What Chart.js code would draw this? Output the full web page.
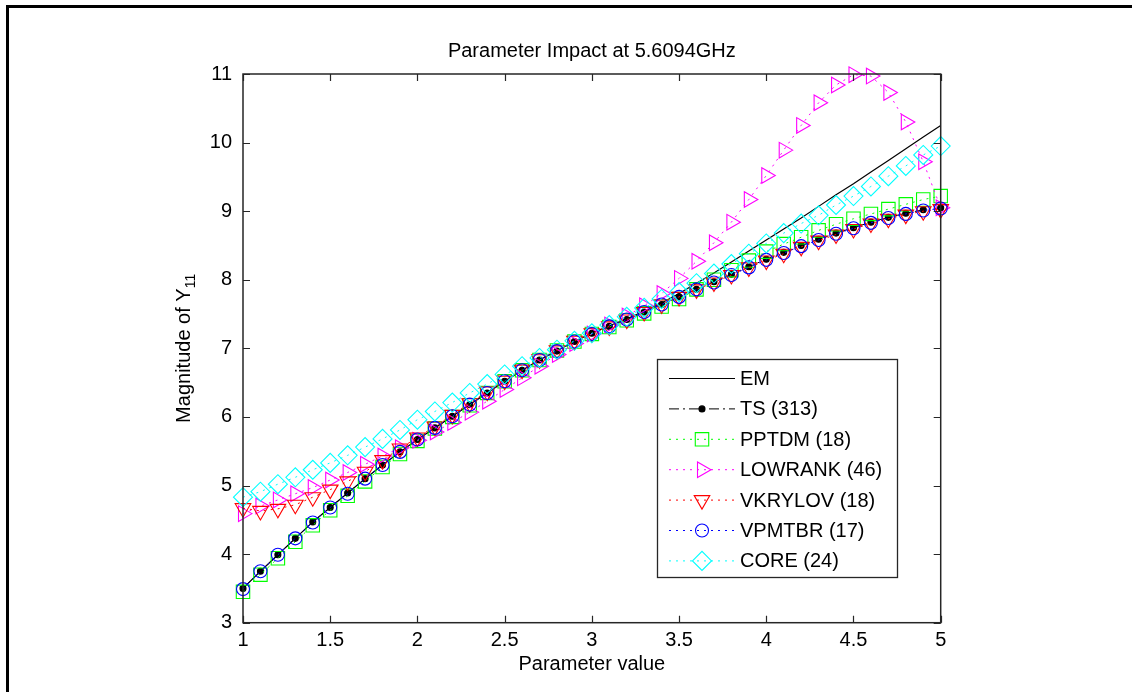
<!DOCTYPE html>
<html>
<head>
<meta charset="utf-8">
<script src="https://cdn.jsdelivr.net/npm/chart.js@4.4.1/dist/chart.umd.min.js"></script>
<style>
  html, body { margin: 0; padding: 0; background: #fff; }
</style>
</head>
<body>
<canvas id="c" width="1132" height="692"></canvas>
<script>
// Data
const params = [1.0, 1.1, 1.2, 1.3, 1.4, 1.5, 1.6, 1.7, 1.8, 1.9, 2.0, 2.1, 2.2, 2.3, 2.4, 2.5, 2.6, 2.7, 2.8, 2.9,
  3.0, 3.1, 3.2, 3.3, 3.4, 3.5, 3.6, 3.7, 3.8, 3.9, 4.0, 4.1, 4.2, 4.3, 4.4, 4.5, 4.6, 4.7, 4.8, 4.9, 5.0];

const emVals = [3.50, 3.75, 3.99, 4.23, 4.47, 4.68, 4.89, 5.10, 5.30, 5.49, 5.67, 5.84, 6.01, 6.18, 6.35, 6.52, 6.68, 6.83, 6.97, 7.10,
  7.22, 7.33, 7.43, 7.54, 7.66, 7.80, 7.95, 8.10, 8.26, 8.42, 8.58, 8.74, 8.90, 9.07, 9.24, 9.40, 9.57, 9.74, 9.91, 10.08, 10.25];
const tsVals = [3.50, 3.75, 3.99, 4.23, 4.47, 4.68, 4.89, 5.10, 5.30, 5.49, 5.67, 5.84, 6.01, 6.18, 6.35, 6.52, 6.68, 6.83, 6.96, 7.10,
  7.22, 7.32, 7.42, 7.53, 7.64, 7.75, 7.86, 7.97, 8.08, 8.19, 8.30, 8.40, 8.50, 8.59, 8.68, 8.76, 8.84, 8.91, 8.97, 9.02, 9.05];
const pptdmVals = [3.45, 3.70, 3.94, 4.18, 4.42, 4.64, 4.85, 5.06, 5.27, 5.46, 5.65, 5.83, 6.00, 6.17, 6.35, 6.52, 6.68, 6.83, 6.97, 7.10,
  7.21, 7.31, 7.41, 7.51, 7.61, 7.72, 7.86, 8.00, 8.14, 8.28, 8.41, 8.52, 8.62, 8.72, 8.81, 8.89, 8.96, 9.03, 9.10, 9.17, 9.22];
const lowrankVals = [4.59, 4.70, 4.79, 4.88, 4.97, 5.08, 5.19, 5.31, 5.43, 5.55, 5.66, 5.78, 5.92, 6.07, 6.23, 6.40, 6.57, 6.74, 6.91, 7.07,
  7.21, 7.34, 7.47, 7.62, 7.80, 8.02, 8.27, 8.54, 8.84, 9.17, 9.52, 9.89, 10.25, 10.58, 10.84, 10.99, 10.97, 10.73, 10.30, 9.72, 9.05];
const vkrylovVals = [4.67, 4.63, 4.66, 4.72, 4.83, 4.94, 5.06, 5.20, 5.37, 5.54, 5.70, 5.86, 6.03, 6.20, 6.37, 6.53, 6.69, 6.84, 6.97, 7.11,
  7.22, 7.32, 7.42, 7.53, 7.64, 7.75, 7.86, 7.96, 8.07, 8.18, 8.28, 8.38, 8.48, 8.57, 8.66, 8.74, 8.82, 8.89, 8.95, 9.00, 9.03];
const vpmtbrVals = [3.49, 3.75, 3.99, 4.23, 4.46, 4.68, 4.88, 5.10, 5.30, 5.49, 5.67, 5.84, 6.01, 6.18, 6.35, 6.52, 6.68, 6.83, 6.96, 7.10,
  7.21, 7.32, 7.42, 7.53, 7.64, 7.75, 7.86, 7.96, 8.07, 8.18, 8.29, 8.39, 8.49, 8.58, 8.67, 8.75, 8.83, 8.90, 8.96, 9.01, 9.04];
const coreVals = [4.83, 4.91, 5.02, 5.12, 5.23, 5.33, 5.44, 5.56, 5.68, 5.81, 5.96, 6.08, 6.21, 6.35, 6.48, 6.62, 6.74, 6.86, 6.98, 7.11,
  7.22, 7.34, 7.46, 7.59, 7.72, 7.82, 7.95, 8.09, 8.23, 8.38, 8.53, 8.68, 8.82, 8.94, 9.09, 9.22, 9.36, 9.51, 9.66, 9.82, 9.95];

const seriesNames = ['EM', 'TS (313)', 'PPTDM (18)', 'LOWRANK (46)', 'VKRYLOV (18)', 'VPMTBR (17)', 'CORE (24)'];
const xTickVals = [1, 1.5, 2, 2.5, 3, 3.5, 4, 4.5, 5];
const yTickVals = [3, 4, 5, 6, 7, 8, 9, 10, 11];

const FONT = '"Liberation Sans", Arial, Helvetica, sans-serif';
const AXIS_COLOR = '#262626';

// Line / marker styles per series (same order as seriesNames)
const styles = [
  { color: '#000000', dash: [], marker: false, width: 1.2 },
  { color: '#000000', dash: [10, 4, 2, 4], marker: 'circle', radius: 3, fill: true },
  { color: '#00ff00', dash: [2, 5], marker: 'rect', radius: 9.5 },
  { color: '#ff00ff', dash: [2, 5], marker: 'triangle', radius: 9, rotation: 90 },
  { color: '#ff0000', dash: [2, 5], marker: 'triangle', radius: 9, rotation: 180 },
  { color: '#0000ff', dash: [2, 5], marker: 'circle', radius: 6.5 },
  { color: '#00ffff', dash: [2, 5], marker: 'rectRot', radius: 9.5 }
];

const allVals = [emVals, tsVals, pptdmVals, lowrankVals, vkrylovVals, vpmtbrVals, coreVals];

const datasets = allVals.map((vals, i) => {
  const s = styles[i];
  return {
    label: seriesNames[i],
    data: params.map((p, k) => ({ x: p, y: vals[k] })),
    borderColor: s.color,
    borderWidth: s.width || 1,
    borderDash: s.dash,
    pointStyle: s.marker || 'circle',
    pointRadius: s.marker ? s.radius : 0,
    pointRotation: s.rotation || 0,
    pointBorderColor: s.color,
    pointBackgroundColor: s.fill ? s.color : 'rgba(0,0,0,0)',
    pointBorderWidth: 1.1,
    tension: 0,
    clip: false,
    order: allVals.length - i
  };
});

// Draws the MATLAB style frame, box, inward ticks, titles and legend
const matlabLook = {
  id: 'matlabLook',
  beforeDraw(chart) {
    const ctx = chart.ctx;
    ctx.save();
    ctx.fillStyle = '#fff';
    ctx.fillRect(0, 0, chart.width, chart.height);
    ctx.fillStyle = '#000';
    ctx.fillRect(6, 5, 3, chart.height - 5);
    ctx.fillRect(6, 5, chart.width - 6, 3);
    ctx.restore();
  },
  afterDatasetsDraw(chart) {
    const ctx = chart.ctx;
    const a = chart.chartArea;
    const xs = chart.scales.x, ys = chart.scales.y;
    ctx.save();

    // axes box
    ctx.strokeStyle = AXIS_COLOR;
    ctx.lineWidth = 1.5;
    ctx.strokeRect(a.left, a.top, a.right - a.left, a.bottom - a.top);

    // inward ticks
    const tl = 7;
    ctx.lineWidth = 1.2;
    ctx.beginPath();
    xTickVals.forEach(v => {
      const px = Math.round(xs.getPixelForValue(v)) + 0.5;
      ctx.moveTo(px, a.bottom); ctx.lineTo(px, a.bottom - tl);
      ctx.moveTo(px, a.top); ctx.lineTo(px, a.top + tl);
    });
    yTickVals.forEach(v => {
      const py = Math.round(ys.getPixelForValue(v)) + 0.5;
      ctx.moveTo(a.left, py); ctx.lineTo(a.left + tl, py);
      ctx.moveTo(a.right, py); ctx.lineTo(a.right - tl, py);
    });
    ctx.stroke();

    // title and axis labels
    const cx = (a.left + a.right) / 2;
    ctx.fillStyle = '#000';
    ctx.font = '20px ' + FONT;
    ctx.textAlign = 'center';
    ctx.textBaseline = 'alphabetic';
    ctx.fillText('Parameter Impact at 5.6094GHz', cx, 57);
    ctx.fillText('Parameter value', cx, 670);

    // y label with subscript
    const main = 'Magnitude of Y', sub = '11';
    ctx.font = '20px ' + FONT;
    const wMain = ctx.measureText(main).width;
    ctx.font = '14px ' + FONT;
    const wSub = ctx.measureText(sub).width;
    ctx.save();
    ctx.translate(190, (a.top + a.bottom) / 2);
    ctx.rotate(-Math.PI / 2);
    ctx.textAlign = 'left';
    const start = -(wMain + wSub) / 2;
    ctx.font = '20px ' + FONT;
    ctx.fillText(main, start, 0);
    ctx.font = '14px ' + FONT;
    ctx.fillText(sub, start + wMain, 5);
    ctx.restore();

    // legend
    const box = { left: 657.5, top: 359.5, right: 897.5, bottom: 577.5 };
    ctx.fillStyle = '#fff';
    ctx.fillRect(box.left, box.top, box.right - box.left, box.bottom - box.top);
    ctx.strokeStyle = AXIS_COLOR;
    ctx.lineWidth = 1.3;
    ctx.strokeRect(box.left, box.top, box.right - box.left, box.bottom - box.top);
    chart.data.datasets.forEach((ds, i) => {
      const y = 378.5 + i * 30.4;
      ctx.strokeStyle = ds.borderColor;
      ctx.lineWidth = ds.borderWidth;
      ctx.setLineDash(ds.borderDash);
      ctx.beginPath();
      ctx.moveTo(669, y); ctx.lineTo(735, y);
      ctx.stroke();
      ctx.setLineDash([]);
      if (ds.pointRadius > 0) {
        ctx.fillStyle = ds.pointBackgroundColor;
        ctx.strokeStyle = ds.pointBorderColor;
        ctx.lineWidth = ds.pointBorderWidth;
        Chart.helpers.drawPoint(ctx, {
          pointStyle: ds.pointStyle, radius: ds.pointRadius,
          rotation: ds.pointRotation, borderWidth: ds.pointBorderWidth
        }, 702, y);
      }
      ctx.fillStyle = '#000';
      ctx.font = '20px ' + FONT;
      ctx.textAlign = 'left';
      ctx.textBaseline = 'middle';
      ctx.fillText(ds.label, 740, y + 1);
    });

    ctx.restore();
  }
};

new Chart(document.getElementById('c'), {
  type: 'line',
  data: { datasets: datasets },
  options: {
    responsive: false,
    animation: false,
    devicePixelRatio: 1,
    events: [],
    layout: { padding: { left: 193, right: 191.3, top: 74, bottom: 9.3 } },
    plugins: { legend: { display: false }, tooltip: { enabled: false }, title: { display: false } },
    scales: {
      x: {
        type: 'linear', min: 1, max: 5,
        grid: { display: false }, border: { display: false },
        afterBuildTicks: s => { s.ticks = xTickVals.map(v => ({ value: v })); },
        afterFit: s => { s.height = 60; },
        ticks: { color: '#000', padding: -2, maxRotation: 0, font: { family: FONT, size: 20 },
          callback: v => String(v) }
      },
      y: {
        type: 'linear', min: 3, max: 11,
        grid: { display: false }, border: { display: false },
        afterBuildTicks: s => { s.ticks = yTickVals.map(v => ({ value: v })); },
        afterFit: s => { s.width = 50; },
        ticks: { color: '#000', padding: 3, font: { family: FONT, size: 20 },
          callback: v => String(v) }
      }
    }
  },
  plugins: [matlabLook]
});
</script>
</body>
</html>
